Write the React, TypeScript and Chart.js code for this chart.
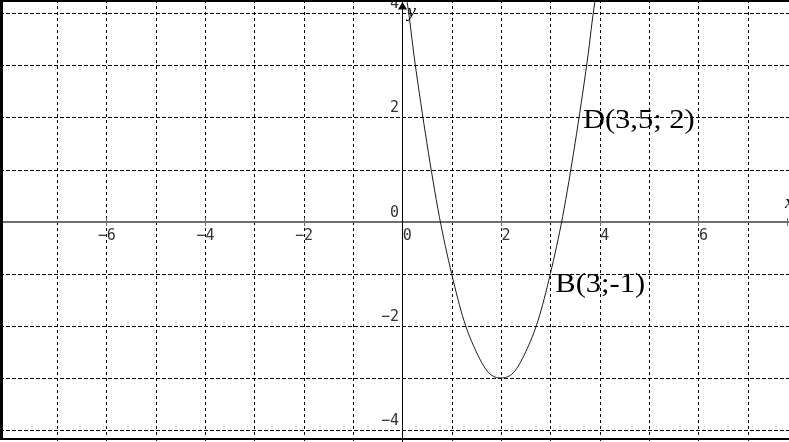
import React, { useEffect, useRef } from "react";
import { Chart, registerables } from "chart.js";

Chart.register(...registerables);

// Curve readings (x, y) from the picture
const curveX = [0.05, 0.1, 0.25, 0.5, 0.75, 1, 1.25, 1.5, 1.75, 2, 2.25, 2.5, 2.75, 3, 3.25, 3.5, 3.75, 3.9, 3.95];
const curveY = [4.4, 4.2, 3.1, 1.5, 0.1, -1, -1.9, -2.5, -2.9, -3, -2.9, -2.5, -1.9, -1, 0.1, 1.5, 3.1, 4.2, 4.4];

// Grid and tick labels
const xGrid = [-7, -6, -5, -4, -3, -2, -1, 0, 1, 2, 3, 4, 5, 6, 7];
const yGrid = [-4, -3, -2, -1, 0, 1, 2, 3, 4];
const xTickLabels = [-6, -4, -2, 0, 2, 4, 6];
const yTickLabels = [-4, -2, 0, 2, 4];

// Point annotations
const annotationTexts = ["D(3,5; 2)", "B(3;-1)"];
const annotationX = [3.66, 3.1];
const annotationY = [1.8, -1.36];

const fmt = (v: number) => (v < 0 ? "\u2212" + Math.abs(v) : String(v));

const axesPlugin = {
  id: "axesGrid",
  beforeDatasetsDraw(chart: any) {
    const { ctx, scales } = chart;
    const xs = scales.x;
    const ys = scales.y;
    const W = chart.width;
    const H = chart.height;
    ctx.save();
    ctx.strokeStyle = "#000";
    ctx.lineWidth = 1;
    ctx.setLineDash([3, 3]);
    for (const v of xGrid) {
      const px = Math.round(xs.getPixelForValue(v)) + 0.5;
      ctx.beginPath();
      ctx.moveTo(px, 0);
      ctx.lineTo(px, H);
      ctx.stroke();
    }
    ctx.setLineDash([4, 2]);
    for (const v of yGrid) {
      const py = Math.round(ys.getPixelForValue(v)) + 0.5;
      ctx.beginPath();
      ctx.moveTo(0, py);
      ctx.lineTo(W, py);
      ctx.stroke();
    }
    ctx.setLineDash([]);
    const y0 = Math.round(ys.getPixelForValue(0));
    const x0 = Math.round(xs.getPixelForValue(0)) + 0.5;
    // x axis
    ctx.strokeStyle = "#6e6e6e";
    ctx.lineWidth = 2;
    ctx.beginPath();
    ctx.moveTo(0, y0);
    ctx.lineTo(W, y0);
    ctx.stroke();
    ctx.lineWidth = 1;
    for (const v of xTickLabels) {
      if (v === 0) continue;
      const px = Math.round(xs.getPixelForValue(v)) + 0.5;
      ctx.beginPath();
      ctx.moveTo(px, y0 - 4);
      ctx.lineTo(px, y0 + 4);
      ctx.stroke();
    }
    ctx.beginPath();
    ctx.moveTo(W - 1.5, y0 - 4);
    ctx.lineTo(W - 1.5, y0 + 4);
    ctx.stroke();
    // y axis
    ctx.strokeStyle = "#000";
    ctx.beginPath();
    ctx.moveTo(x0, 0);
    ctx.lineTo(x0, H);
    ctx.stroke();
    ctx.restore();
  },
  afterDatasetsDraw(chart: any) {
    const { ctx, scales } = chart;
    const xs = scales.x;
    const ys = scales.y;
    const W = chart.width;
    const H = chart.height;
    const y0 = ys.getPixelForValue(0);
    const x0 = Math.round(xs.getPixelForValue(0)) + 0.5;
    ctx.save();
    // tick labels
    ctx.font = "15px 'DejaVu Sans Mono'";
    ctx.fillStyle = "#333";
    ctx.textBaseline = "alphabetic";
    ctx.textAlign = "left";
    const mw = ctx.measureText("\u2212").width;
    for (const v of xTickLabels) {
      const px = xs.getPixelForValue(v);
      const left = v < 0 ? px + 0.5 - mw : px + 0.5;
      ctx.fillText(fmt(v), left, y0 + 18.5);
    }
    ctx.textAlign = "right";
    for (const v of yTickLabels) {
      const py = ys.getPixelForValue(v);
      ctx.fillText(fmt(v), x0 - 3.5, py - 5);
    }
    // arrow on y axis
    ctx.fillStyle = "#000";
    ctx.beginPath();
    ctx.moveTo(x0, 2);
    ctx.lineTo(x0 - 4.5, 9.5);
    ctx.lineTo(x0 + 4.5, 9.5);
    ctx.closePath();
    ctx.fill();
    // axis names
    ctx.font = "italic 19px 'Liberation Serif'";
    ctx.textAlign = "left";
    ctx.fillText("y", x0 + 5, 17);
    ctx.fillText("x", W - 4, y0 - 14);
    // annotations
    ctx.font = "27px 'Liberation Serif'";
    for (let i = 0; i < annotationTexts.length; i++) {
      const px = xs.getPixelForValue(annotationX[i]);
      const py = ys.getPixelForValue(annotationY[i]);
      ctx.save();
      ctx.translate(px, py);
      ctx.scale(1.13, 1);
      ctx.fillText(annotationTexts[i], 0, 0);
      ctx.restore();
    }
    // frame
    ctx.fillStyle = "#000";
    ctx.fillRect(0, 0, W, 2);
    ctx.fillRect(0, 0, 3, H - 2);
    ctx.fillRect(0, H - 4, W, 2);
    ctx.restore();
  },
};

export default function App() {
  const ref = useRef<HTMLCanvasElement | null>(null);
  useEffect(() => {
    if (!ref.current) return;
    const points = curveX.map((x, i) => ({ x, y: curveY[i] }));
    const chart = new Chart(ref.current, {
      type: "scatter",
      data: {
        datasets: [
          {
            data: points,
            showLine: true,
            borderColor: "#1a1a1a",
            borderWidth: 1,
            pointRadius: 0,
            cubicInterpolationMode: "monotone",
            fill: false,
          },
        ],
      },
      options: {
        animation: false,
        responsive: false,
        maintainAspectRatio: false,
        devicePixelRatio: 1,
        layout: { padding: 0 },
        plugins: { legend: { display: false }, tooltip: { enabled: false } },
        scales: {
          x: { type: "linear", min: -8.152, max: 7.836, display: false },
          y: { type: "linear", min: -4.23, max: 4.255, display: false },
        },
      },
      plugins: [axesPlugin],
    });
    return () => chart.destroy();
  }, []);
  return (
    <div style={{ position: "fixed", left: 0, top: 0, width: 789, height: 442, background: "#fff" }}>
      <canvas ref={ref} width={789} height={442} style={{ display: "block" }} />
    </div>
  );
}
